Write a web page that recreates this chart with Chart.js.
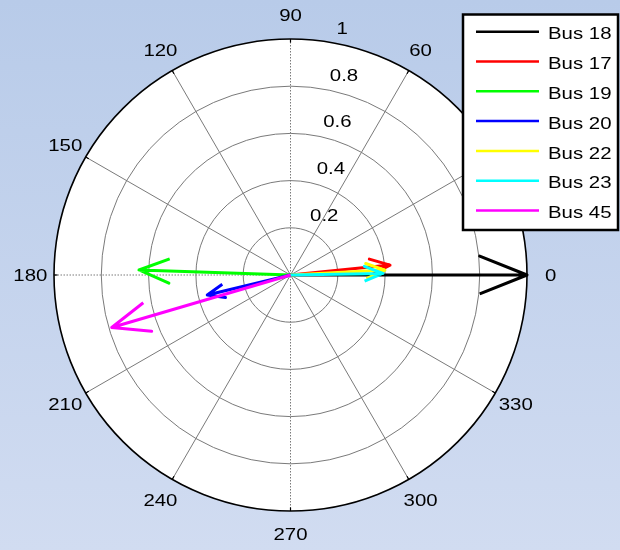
<!DOCTYPE html>
<html>
<head>
<meta charset="utf-8">
<script src="https://cdn.jsdelivr.net/npm/chart.js@4"></script>
<style>
  html, body { margin: 0; padding: 0; background: #c4d3ee; }
  #wrap { width: 620px; height: 550px; }
</style>
</head>
<body>
<div id="wrap"><canvas id="c" width="620" height="550"></canvas></div>
<script>
// ---- data ----
const busLabels  = ['Bus 18', 'Bus 17', 'Bus 19', 'Bus 20', 'Bus 22', 'Bus 23', 'Bus 45'];
const magnitudes = [1.00, 0.423, 0.641, 0.362, 0.400, 0.391, 0.788];
const anglesDeg  = [0.0, 5.7, 178.1, 193.5, 3.0, 1.0, 196.4];
const busColors  = ['#000000', '#ff0000', '#00ff00', '#0000ff', '#ffff00', '#00ffff', '#ff00ff'];

const angleTicks  = [0, 30, 60, 90, 120, 150, 180, 210, 240, 270, 300, 330];
const radialTicks = [0.2, 0.4, 0.6, 0.8, 1.0];
const radialTickLabels = ['0.2', '0.4', '0.6', '0.8', '1'];
const rMax = 1;

// MATLAB compass arrow shape: [0 1 .8 1 .8] + i[0 0 .08 0 -.08], scaled by each vector
const arrowX = [0, 1, 0.8, 1, 0.8];
const arrowY = [0, 0, 0.08, 0, -0.08];

function arrowPoints(mag, deg) {
  const a = deg * Math.PI / 180;
  const c = Math.cos(a), s = Math.sin(a);
  return arrowX.map((ax, k) => {
    const ay = arrowY[k];
    return { x: mag * (ax * c - ay * s), y: mag * (ax * s + ay * c) };
  });
}

const datasets = busLabels.map((lab, i) => ({
  label: lab,
  data: arrowPoints(magnitudes[i], anglesDeg[i]),
  borderColor: busColors[i],
  backgroundColor: busColors[i],
  borderWidth: 3,
  showLine: true,
  pointRadius: 0,
  pointHoverRadius: 0,
  fill: false,
  tension: 0,
  clip: false,
  borderJoinStyle: 'round',
  order: busLabels.length - i
}));

function drawStretchedText(ctx, text, x, y, align) {
  ctx.save();
  ctx.translate(x, y);
  ctx.scale(1.2, 1);
  ctx.textAlign = align;
  ctx.textBaseline = 'middle';
  ctx.fillText(text, 0, 0);
  ctx.restore();
}

const polarGrid = {
  id: 'polarGrid',
  beforeDraw(chart) {
    const ctx = chart.ctx;
    const g = ctx.createLinearGradient(0, 0, 0, chart.height);
    g.addColorStop(0, '#b8cbe9');
    g.addColorStop(1, '#d1dcf1');
    ctx.save();
    ctx.fillStyle = g;
    ctx.fillRect(0, 0, chart.width, chart.height);
    ctx.restore();
  },
  beforeDatasetsDraw(chart) {
    const ctx = chart.ctx;
    const xs = chart.scales.x, ys = chart.scales.y;
    const px = (x) => xs.getPixelForValue(x);
    const py = (y) => ys.getPixelForValue(y);
    const cx = px(0), cy = py(0);
    ctx.save();
    // white disk
    ctx.beginPath();
    ctx.ellipse(cx, cy, px(rMax) - cx, cy - py(rMax), 0, 0, Math.PI * 2);
    ctx.fillStyle = '#ffffff';
    ctx.fill();
    // rings
    ctx.strokeStyle = '#7a7a7a';
    ctx.lineWidth = 1;
    radialTicks.forEach((r, idx) => {
      if (idx === radialTicks.length - 1) return;
      ctx.beginPath();
      const n = 60;
      for (let k = 0; k <= n; k++) {
        const a = k / n * Math.PI * 2;
        const X = px(r * Math.cos(a)), Y = py(r * Math.sin(a));
        if (k === 0) ctx.moveTo(X, Y); else ctx.lineTo(X, Y);
      }
      ctx.stroke();
    });
    // spokes
    for (let d = 0; d < 180; d += 30) {
      const a = d * Math.PI / 180;
      ctx.beginPath();
      ctx.strokeStyle = '#7a7a7a';
      if (d % 90 === 0) ctx.setLineDash([1.5, 1.5]); else ctx.setLineDash([]);
      ctx.moveTo(px(rMax * Math.cos(a)), py(rMax * Math.sin(a)));
      ctx.lineTo(px(-rMax * Math.cos(a)), py(-rMax * Math.sin(a)));
      ctx.stroke();
    }
    ctx.setLineDash([]);
    // outer circle
    ctx.beginPath();
    ctx.ellipse(cx, cy, px(rMax) - cx, cy - py(rMax), 0, 0, Math.PI * 2);
    ctx.strokeStyle = '#000000';
    ctx.lineWidth = 1.6;
    ctx.stroke();
    // small ticks at outer circle
    ctx.lineWidth = 1.2;
    angleTicks.forEach(d => {
      const a = d * Math.PI / 180;
      ctx.beginPath();
      ctx.moveTo(px(rMax * Math.cos(a)), py(rMax * Math.sin(a)));
      ctx.lineTo(px(0.985 * rMax * Math.cos(a)), py(0.985 * rMax * Math.sin(a)));
      ctx.stroke();
    });
    // labels
    ctx.fillStyle = '#000000';
    ctx.font = '17px "Liberation Sans", Arial, sans-serif';
    angleTicks.forEach(d => {
      const a = d * Math.PI / 180;
      drawStretchedText(ctx, String(d), px(1.1 * rMax * Math.cos(a)), py(1.1 * rMax * Math.sin(a)) + 1, 'center');
    });
    const a82 = 82 * Math.PI / 180;
    radialTicks.forEach((r, idx) => {
      drawStretchedText(ctx, radialTickLabels[idx], px(r * Math.cos(a82)) + 13, py(r * Math.sin(a82)) - 12, 'left');
    });
    ctx.restore();
  },
  afterDraw(chart) {
    const ctx = chart.ctx;
    ctx.save();
    ctx.fillStyle = '#ffffff';
    ctx.fillRect(463, 14.5, 155, 215.5);
    ctx.strokeStyle = '#000000';
    ctx.lineWidth = 2.5;
    ctx.strokeRect(463, 14.5, 155, 215.5);
    ctx.font = '17px "Liberation Sans", Arial, sans-serif';
    chart.data.datasets.forEach((ds, i) => {
      const y = 31.7 + i * 29.8;
      ctx.beginPath();
      ctx.strokeStyle = ds.borderColor;
      ctx.lineWidth = 2.5;
      ctx.moveTo(476, y);
      ctx.lineTo(539, y);
      ctx.stroke();
      ctx.fillStyle = '#000000';
      drawStretchedText(ctx, ds.label, 548, y + 3, 'left');
    });
    ctx.restore();
  }
};

new Chart(document.getElementById('c'), {
  type: 'scatter',
  data: { datasets },
  options: {
    responsive: false,
    animation: false,
    events: [],
    layout: { padding: { left: 54, right: 93, top: 39, bottom: 39 } },
    scales: {
      x: { type: 'linear', min: -rMax, max: rMax, display: false },
      y: { type: 'linear', min: -rMax, max: rMax, display: false }
    },
    plugins: {
      legend: { display: false },
      tooltip: { enabled: false }
    }
  },
  plugins: [polarGrid]
});
</script>
</body>
</html>
